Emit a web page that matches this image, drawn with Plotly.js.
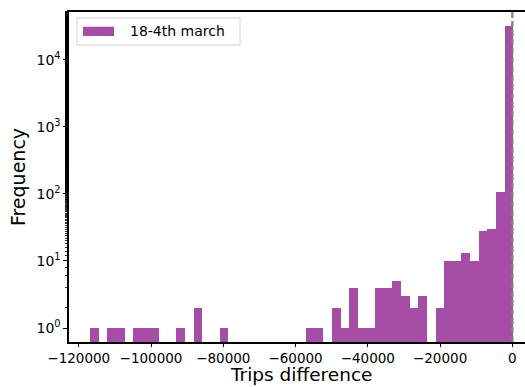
<!DOCTYPE html>
<html>
<head>
<meta charset="utf-8">
<script src="https://cdn.plot.ly/plotly-3.0.1.min.js"></script>
<style>html,body{margin:0;padding:0;background:#fff;}#chart{width:525px;height:387px;}</style>
</head>
<body>
<div id="chart"></div>
<script>
// Bin centres (trip difference) and frequencies
const binCenters = [-115705, -113314, -110923, -108532, -106141, -103750, -101359, -98968, -96577, -94186,
  -91795, -89404, -87013, -84622, -82231, -79840, -77449, -75058, -72667, -70276,
  -67885, -65494, -63103, -60712, -58321, -55930, -53539, -51148, -48757, -46366,
  -43975, -41584, -39193, -36802, -34411, -32020, -29629, -27238, -24847, -22456,
  -20065, -17674, -15283, -12892, -10501, -8110, -5719, -3328, -937];
const counts = [1, 0, 1, 1, 0, 1, 1, 1, 0, 0,
  1, 0, 2, 0, 0, 1, 0, 0, 0, 0,
  0, 0, 0, 0, 0, 1, 1, 0, 2, 1,
  4, 1, 1, 4, 4, 5, 3, 2, 3, 0,
  2, 10, 10, 13, 10, 28, 30, 106, 32000];
const binWidth = 2391;
const seriesName = "18-4th march";
const xTitle = "Trips difference";
const yTitle = "Frequency";
const xTickVals = [-120000, -100000, -80000, -60000, -40000, -20000, 0];
const xTickText = ["\u2212120000", "\u2212100000", "\u221280000", "\u221260000", "\u221240000", "\u221220000", "0"];
const yTickVals = [1, 10, 100, 1000, 10000];
const yTickText = ["10<sup>0</sup>", "10<sup>1</sup>", "10<sup>2</sup>", "10<sup>3</sup>", "10<sup>4</sup>"];

const xs = [], ys = [];
binCenters.forEach((c, i) => { if (counts[i] > 0) { xs.push(c); ys.push(counts[i]); } });

const barColor = "rgb(166,77,166)";
const font = "DejaVu Sans, sans-serif";

const trace = {
  type: "bar", x: xs, y: ys, width: binWidth, name: seriesName,
  marker: {color: barColor, line: {width: 0}}, showlegend: false
};

const layout = {
  width: 525, height: 387,
  margin: {l: 69, r: 0, t: 12, b: 45, pad: 0},
  paper_bgcolor: "#fff", plot_bgcolor: "#fff",
  bargap: 0,
  font: {family: font, color: "#000", size: 14},
  xaxis: {
    range: [-122700, 3500], showgrid: false, zeroline: false,
    showline: true, linecolor: "#000", linewidth: 1.6, mirror: true,
    ticks: "outside", ticklen: 3, tickwidth: 1, tickcolor: "#000",
    tickvals: xTickVals, ticktext: xTickText,
    tickfont: {family: font, size: 13.5, color: "#000"}
  },
  yaxis: {
    type: "log", range: [-0.209, 4.716], showgrid: false, zeroline: false,
    showline: true, linecolor: "#000", linewidth: 1.6, mirror: true,
    ticks: "outside", ticklen: 4, tickwidth: 1, tickcolor: "#000",
    tickvals: yTickVals, ticktext: yTickText,
    tickfont: {family: font, size: 14, color: "#000"},
    minor: {ticks: "outside", ticklen: 2, tickwidth: 0.8, tickcolor: "#000", showgrid: false},
    title: {text: yTitle, font: {family: font, size: 19, color: "#000"}, standoff: 6}
  },
  shapes: [
    {type: "line", xref: "x", yref: "paper", x0: 0, x1: 0, y0: 0, y1: 1,
     line: {color: "rgba(128,128,128,0.9)", width: 2.5, dash: "6px,3px"}},
    {type: "rect", xref: "paper", yref: "paper", x0: 0.0175, x1: 0.375, y0: 0.900, y1: 0.982,
     line: {color: "#d0d0d0", width: 1}, fillcolor: "rgba(255,255,255,0.8)"},
    {type: "rect", xref: "paper", yref: "paper", x0: 0.0307, x1: 0.0987, y0: 0.9274, y1: 0.9555,
     line: {width: 0}, fillcolor: barColor}
  ],
  annotations: [
    {xref: "paper", yref: "paper", x: 0.1294, y: 0.9415, xanchor: "left", yanchor: "middle",
     text: seriesName, showarrow: false, font: {family: font, size: 14, color: "#000"}},
    {xref: "paper", yref: "paper", x: 0.509, y: -0.1346, xanchor: "center", yanchor: "bottom",
     text: xTitle, showarrow: false, borderpad: 0, font: {family: font, size: 18.5, color: "#000"}}
  ]
};

Plotly.newPlot("chart", [trace], layout, {displayModeBar: false, staticPlot: true});
</script>
</body>
</html>
